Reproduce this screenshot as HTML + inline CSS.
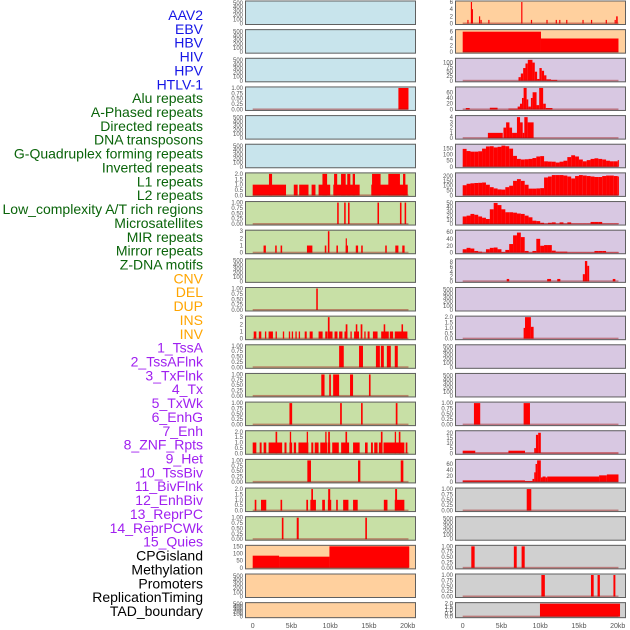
<!DOCTYPE html>
<html><head><meta charset="utf-8"><style>
body{margin:0;background:#fff;width:630px;height:630px;overflow:hidden;font-family:"Liberation Sans",sans-serif}
svg{display:block}
</style></head><body>
<svg id="chart" width="630" height="630" viewBox="0 0 630 630"></svg>
<script>
const labels=["AAV2","EBV","HBV","HIV","HPV","HTLV-1","Alu repeats","A-Phased repeats","Directed repeats","DNA transposons","G-Quadruplex forming repeats","Inverted repeats","L1 repeats","L2 repeats","Low_complexity A/T rich regions","Microsatellites","MIR repeats","Mirror repeats","Z-DNA motifs","CNV","DEL","DUP","INS","INV","1_TssA","2_TssAFlnk","3_TxFlnk","4_Tx","5_TxWk","6_EnhG","7_Enh","8_ZNF_Rpts","9_Het","10_TssBiv","11_BivFlnk","12_EnhBiv","13_ReprPC","14_ReprPCWk","15_Quies","CPGisland","Methylation","Promoters","ReplicationTiming","TAD_boundary"];
const labelGroups=[0,0,0,0,0,0,1,1,1,1,1,1,1,1,1,1,1,1,1,2,2,2,2,2,3,3,3,3,3,3,3,3,3,3,3,3,3,3,3,4,4,4,4,4];
const xTicks=[0,5,10,15,20];
const xTickLabels=["0","5kb","10kb","15kb","20kb"];
const t500=[0,100,200,300,400,500];
const t1=[0,0.25,0.5,0.75,1];
const t2=[0,0.5,1,1.5,2];
const t3=[0,1,2,3];
// left column data: segments [startKb,endKb,value]
const L_alu=[[18.8,20.1,1]];
const L_r6=[[0,4.3,1],[2.1,2.5,2],[5.3,5.8,1],[6.0,7.2,1],[7.6,8.1,1],[8.5,10,1],[9,9.6,2],[10.4,13.8,1],[10.5,10.9,2],[11.4,12,2],[12.2,12.6,2],[12.9,13.2,2],[15.3,20,1],[15.4,16.5,2],[17.5,19,2],[19.4,19.7,2]];
const L_r7=[[10.9,11.1,1],[11.8,12,1],[12.3,12.5,1],[16.1,16.3,1],[19,19.2,1],[19.6,19.8,1]];
const L_r8=[[1.4,1.7,1],[2.9,3.1,1],[3.6,3.8,1],[7.0,7.7,1],[9.3,9.5,1],[9.7,9.9,3],[10.8,11,1],[12.0,12.3,1],[12.0,12.15,2],[13.3,13.6,1],[14.0,14.2,1],[17.1,17.3,1],[18.4,18.8,1],[19.3,19.6,1]];
const L_r10=[[8.2,8.4,1]];
const L_r11=[[0.13,0.47,1],[0.79,1.11,1],[1.58,1.75,1],[2.05,2.61,1],[2.95,3.12,1],[3.89,4.06,1],[4.66,4.83,1],[5.04,5.21,1],[5.51,5.68,1],[5.94,6.11,1],[6.71,6.97,1],[7.35,7.74,1],[8.5,9.02,1],[9.36,9.66,1],[9.79,10.3,1],[9.7,9.92,3],[10.56,10.94,1],[11.15,11.58,1],[11.84,12.22,1],[12.0,12.22,2],[12.61,12.78,1],[13.08,13.72,1],[13.3,13.5,2],[13.93,14.15,2],[14.4,14.57,1],[14.83,15.08,1],[15.51,16.11,1],[16.58,17.56,1],[16.9,17.1,2],[17.69,18.12,1],[18.33,19.96,1],[19.2,19.4,2]];
const L_r12=[[11.15,11.75,1],[13.72,14.23,1],[15.9,16.41,1],[16.54,16.92,1],[17.31,17.82,1],[18.33,18.72,1]];
const L_r13=[[8.85,9.27,1],[9.87,10.09,1],[10.38,11.15,1],[12.56,12.95,1],[15.0,15.21,1]];
const L_r14=[[4.74,5.09,1],[11.28,11.5,1],[13.98,14.19,1],[18.46,18.68,1]];
const L_r15=[[0,0.47,1],[0.9,1.15,1],[1.41,1.75,1],[2.05,3.8,1],[4.1,4.36,1],[4.74,5.09,1],[5.3,5.6,1],[5.9,7.18,1],[7.56,7.82,1],[8.0,8.5,1],[8.72,9.62,1],[9.7,10.0,1],[10.26,11.11,1],[11.41,12.44,1],[12.95,13.8,1],[14.49,14.83,1],[15.26,15.51,1],[15.68,16.11,1],[16.28,16.71,1],[16.88,19.57,1],[19.74,19.96,1],[2.95,3.16,2],[4.79,4.96,2],[6.97,7.14,2],[9.36,9.53,2],[9.74,9.96,2],[11.97,12.18,2],[16.54,16.75,2],[18.33,18.5,2],[18.85,19.06,2]];
const L_r16=[[7.05,7.52,1],[13.59,13.89,1],[19.1,19.44,1]];
const L_r17=[[0.26,0.47,1],[1.07,1.75,1],[3.59,3.8,1],[6.92,7.14,1],[7.44,8.16,1],[8.97,9.32,1],[9.7,10.13,1],[10.77,10.98,1],[11.67,12.35,1],[12.95,13.55,1],[16.92,17.39,1],[18.33,19.57,1],[7.56,7.78,2],[9.74,10.0,2],[18.38,18.63,2]];
const L_r18=[[3.76,3.97,1],[5.68,5.94,1],[14.53,14.74,1]];
const L_cpg=[[0,3.4,85],[3.4,9.9,78],[9.9,20.2,150]];
// right column data
const R_r0=[[0.6,0.75,1],[1.05,1.17,6],[1.17,1.3,4],[2.1,2.25,2],[2.3,2.45,1],[3.3,3.45,1],[7.55,7.7,6],[8.8,8.95,1],[10.8,10.95,1],[12.0,12.15,1],[12.45,12.6,1],[13.35,13.5,1],[15.45,15.6,1],[16.55,16.7,1],[18.45,18.6,1],[19.6,19.75,1],[19.8,20.0,2]];
const R_r1=[[0,10.1,6],[10.1,20.1,4]];
const R_hiv=[[7.2,7.5,20],[7.5,7.8,40],[7.8,8.1,70],[8.1,8.4,95],[8.4,9.0,115],[9.0,9.3,100],[9.3,9.6,50],[9.6,9.9,10],[9.9,10.2,70],[10.2,10.5,55],[10.5,10.8,30],[10.8,11.4,8],[11.4,12.2,5]];
const R_hpv=[[0.4,0.9,5],[3.5,4.5,6],[5.9,7.09,3],[7.09,7.39,10],[7.39,7.65,20],[7.65,7.86,40],[7.86,8.25,75],[8.25,8.46,35],[8.46,8.8,10],[8.8,9.02,40],[9.02,9.53,60],[9.53,9.87,15],[9.87,10.38,75],[10.38,10.72,20],[10.72,11.58,5]];
const R_htlv=[[3.25,5.17,1],[5.26,5.6,2],[5.6,6.03,3],[6.03,6.37,2],[6.37,7.0,1],[7.0,7.4,4],[7.4,7.74,3],[7.74,7.95,1],[7.95,8.38,4],[8.38,9.15,3]];
const R_g4=[148,130,125,125,128,150,168,170,160,165,175,170,150,90,65,60,62,65,72,85,88,45,43,42,35,42,50,80,95,85,60,45,55,65,70,65,60,50,45,45,55];
const R_inv=[105,120,125,128,130,133,110,85,72,62,60,85,100,150,168,150,110,70,70,72,75,185,195,210,210,210,205,195,175,200,210,205,200,195,190,190,200,205,205,200,195];
const R_l1=[18,20,24,22,18,15,12,35,50,45,35,28,28,27,25,24,20,16,8,7,3,1,3,4,1,4,1,4,1,1,1,1,1,5,5,5,1,1,1,1,1];
const R_mir=[10,14,12,5,3,1,10,14,15,10,2,8,25,50,58,45,5,1,5,40,20,22,22,6,3,3,3,1,1,1,1,1,1,1,5,5,5,1,1,1,1];
const R_r9=[[5.68,6.0,1],[10.9,11.4,1],[12.2,12.6,1],[15.5,15.77,3],[15.77,16.07,8.5],[16.07,16.32,6.5],[19.36,19.7,1]];
const R_r11=[[7.86,8.04,1],[8.04,8.8,2],[8.8,9.15,1.1]];
const R_r14=[[1.45,2.26,1],[7.86,8.68,1]];
const R_r15=[[0,1.62,2.5],[1.62,5.9,0.5],[5.9,8.04,2.5],[8.04,9.23,0.5],[9.23,9.45,5],[9.45,9.74,18],[9.74,10.08,20],[10.08,20.1,0.5]];
const R_r16=[[0,8.04,5],[8.04,9.0,3],[9.0,9.23,10],[9.23,9.4,32],[9.4,9.6,60],[9.6,10.08,72],[10.08,10.3,15],[10.3,10.7,18],[10.7,10.9,15],[10.9,17.6,18],[17.6,18.6,22],[18.6,20.1,25]];
const R_r17=[[8.26,8.85,1]];
const R_r19=[[1.11,1.54,1],[6.6,6.97,1],[7.6,8.0,1]];
const R_r20=[[10.15,10.6,1],[16.55,16.9,1],[17.4,17.7,1],[19.45,19.7,1]];
const R_tad=[[9.97,20.3,2]];

const BLUE="#c8e4ec",GREEN="#c8e0a6",PURP="#d8c8e2",ORNG="#ffd09e",GRAY="#d0d0d0";
function binsToSegs(arr){const s=[];for(let k=0;k<arr.length;k++){s.push([k*0.5,Math.min(k*0.5+0.5,20.1),arr[k]]);}return s;}
const panels=[
 {c:0,r:0,bg:BLUE,t:t500,m:520,s:null},{c:0,r:1,bg:BLUE,t:t500,m:520,s:null},{c:0,r:2,bg:BLUE,t:t500,m:520,s:null},
 {c:0,r:3,bg:BLUE,t:t1,m:1.0,s:L_alu},{c:0,r:4,bg:BLUE,t:t500,m:520,s:null},{c:0,r:5,bg:BLUE,t:t500,m:520,s:null},
 {c:0,r:6,bg:GREEN,t:t2,m:2.0,s:L_r6},{c:0,r:7,bg:GREEN,t:t1,m:1.0,s:L_r7},{c:0,r:8,bg:GREEN,t:t3,m:3.0,s:L_r8},
 {c:0,r:9,bg:GREEN,t:t500,m:520,s:null},{c:0,r:10,bg:GREEN,t:t1,m:1.0,s:L_r10},{c:0,r:11,bg:GREEN,t:t3,m:3.0,s:L_r11},
 {c:0,r:12,bg:GREEN,t:t1,m:1.0,s:L_r12},{c:0,r:13,bg:GREEN,t:t1,m:1.0,s:L_r13},{c:0,r:14,bg:GREEN,t:t1,m:1.0,s:L_r14},
 {c:0,r:15,bg:GREEN,t:t2,m:2.0,s:L_r15},{c:0,r:16,bg:GREEN,t:t1,m:1.0,s:L_r16},{c:0,r:17,bg:GREEN,t:t2,m:2.0,s:L_r17},
 {c:0,r:18,bg:GREEN,t:t1,m:1.0,s:L_r18},{c:0,r:19,bg:ORNG,t:[0,50,100,150],m:150,s:L_cpg},
 {c:0,r:20,bg:ORNG,t:t500,m:520,s:null},{c:0,r:21,bg:ORNG,t:t500,m:520,s:null},
 {c:1,r:0,bg:ORNG,t:[0,2,4,6],m:6,s:R_r0},{c:1,r:1,bg:ORNG,t:[0,2,4,6],m:6.3,s:R_r1},
 {c:1,r:2,bg:PURP,t:[0,25,50,75,100],m:118,s:R_hiv},{c:1,r:3,bg:PURP,t:[0,20,40,60],m:75,s:R_hpv},
 {c:1,r:4,bg:PURP,t:[0,1,2,3,4],m:4.1,s:R_htlv},{c:1,r:5,bg:PURP,t:[0,50,100,150],m:178,s:binsToSegs(R_g4)},
 {c:1,r:6,bg:PURP,t:[0,50,100,150,200],m:222,s:binsToSegs(R_inv)},{c:1,r:7,bg:PURP,t:[0,10,20,30,40,50],m:51,s:binsToSegs(R_l1)},
 {c:1,r:8,bg:PURP,t:[0,20,40,60],m:62,s:binsToSegs(R_mir)},{c:1,r:9,bg:PURP,t:[0,2,4,6,8],m:9,s:R_r9},
 {c:1,r:10,bg:PURP,t:t500,m:520,s:null},{c:1,r:11,bg:PURP,t:t2,m:2.0,s:R_r11},
 {c:1,r:12,bg:PURP,t:t500,m:520,s:null},{c:1,r:13,bg:PURP,t:t500,m:520,s:null},
 {c:1,r:14,bg:PURP,t:t1,m:1.0,s:R_r14},{c:1,r:15,bg:PURP,t:[0,5,10,15,20],m:21,s:R_r15},
 {c:1,r:16,bg:PURP,t:[0,20,40,60],m:72,s:R_r16},{c:1,r:17,bg:GRAY,t:t1,m:1.0,s:R_r17},
 {c:1,r:18,bg:GRAY,t:t500,m:520,s:null},{c:1,r:19,bg:GRAY,t:t1,m:1.0,s:R_r19},
 {c:1,r:20,bg:GRAY,t:t1,m:1.0,s:R_r20},{c:1,r:21,bg:GRAY,t:t2,m:2.0,s:R_tad}
];
const NS="http://www.w3.org/2000/svg";
const svg=document.getElementById('chart');
function el(tag,attrs,parent){const e=document.createElementNS(NS,tag);for(const k in attrs)e.setAttribute(k,attrs[k]);(parent||svg).appendChild(e);return e;}
const colX=[245,455],colX0=[252.7,462.7],PW=171,PXKB=7.75;
function xs(c,kb){return colX0[c]+kb*PXKB;}
function rowTop(r){return r*28.65+0.5;}
function rowH(r){return r===21?16:24.5;}
const labColors=["#1515e6","#0a640a","#ffa500","#a020f0","#000000"];
labels.forEach((t,i)=>{
 const e=el('text',{x:203,y:15+i*13.86+5,'text-anchor':'end','font-size':'14','fill':labColors[labelGroups[i]]});
 e.textContent=t;
 
 
});
panels.forEach((p,pi)=>{
 const g=el('g',{});
 
 
 const top=rowTop(p.r),h=rowH(p.r),x=colX[p.c],bot=top+h;
 const y=v=>bot-1.5-v/p.m*(h-3);
 const bg=el('rect',{x:x,y:top,width:PW,height:h,fill:p.bg},g);
 
 
 const cid='clip'+pi;
 const cp=el('clipPath',{id:cid},g);el('rect',{x:x,y:top,width:PW,height:h},cp);
 const dg=el('g',{'clip-path':'url(#'+cid+')'},g);
 if(p.s){
  p.s.forEach(s=>{
   const yy=y(s[2]);
   const b=el('rect',{x:xs(p.c,s[0]),y:yy,width:Math.max(1.2,xs(p.c,s[1])-xs(p.c,s[0])),height:Math.max(0,y(0)-yy),fill:'#ff0000'},dg);
   
   
  });
  const bl=el('rect',{x:xs(p.c,0),y:y(0)-1,width:20.1*PXKB,height:1.6,fill:'rgba(160,20,20,0.45)'},dg);
  
  
 }
 const fr=el('rect',{x:x+0.5,y:top+0.5,width:PW-1,height:h-1,fill:'none',stroke:'#606060','stroke-width':1},g);
 
 
 p.t.forEach(tv=>{
  const tx=el('text',{x:x-2,y:y(tv)+2,'text-anchor':'end','font-size':'6','fill':'#555'},g);
  tx.textContent=(p.t===t1)?tv.toFixed(2):(p.t===t2?tv.toFixed(1):String(tv));
  
  
 });
});
[0,1].forEach(c=>{
 xTicks.forEach((k,i)=>{
  const t=el('text',{x:xs(c,k),y:628,'text-anchor':'middle','font-size':'7','fill':'#555'});
  t.textContent=xTickLabels[i];
  
  
 });
});
</script>
</body></html>
